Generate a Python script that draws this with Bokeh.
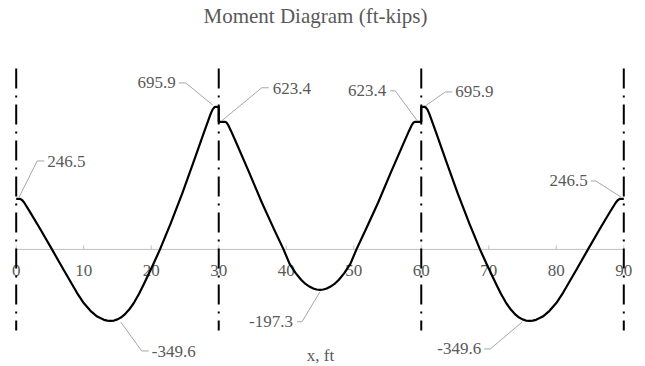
from bokeh.plotting import figure
from bokeh.models import Range1d, ColumnDataSource
from bokeh.core.properties import value
from bokeh.embed import file_html
from bokeh.resources import INLINE

# --- Bending moment along the beam (ft, ft-kips) ---
span1_x = [0, 0.6, 0.9, 1.2, 2.1, 3.6, 5.3, 7.0, 9.0, 10.0, 11.0, 12.0, 13.0, 13.5, 14.0,
           14.5, 15.0, 15.5, 16.0, 16.7, 17.4, 18.2, 18.9, 20.2, 21.3, 22.9, 24.6, 26.3,
           27.8, 28.4, 28.8, 29.1, 29.4, 29.5, 30]
span1_m = [246.5, 246.5, 240, 228, 180, 97, 0, -98, -212, -262, -300, -328, -344, -348, -349.6,
           -347.7, -342, -333, -320, -295, -263, -217, -170, -80, 0, 128, 274, 430,
           571, 625, 662, 684, 695.5, 695.9, 695.9]

span2_x = [30, 30.9, 31.1, 31.4, 31.8, 32.5, 34.5, 36.4, 38.2, 39.6, 40.5, 41.4, 42.2,
           42.9, 43.5, 44.0, 44.5, 45.0, 45.5, 46.0, 46.5, 47.1, 47.8, 48.6, 49.5, 50.4,
           51.8, 53.6, 55.5, 57.5, 58.2, 58.6, 58.9, 59.1, 60]
span2_m = [623.4, 623.4, 621, 608, 580, 528, 376, 228, 98, 0, -71, -116, -148,
           -170, -183, -191, -196, -197.3, -196, -191, -183, -170, -148, -116, -71, 0,
           98, 228, 376, 528, 580, 608, 621, 623.4, 623.4]

span3_x = [60, 60.5, 60.6, 60.9, 61.2, 61.6, 62.2, 63.7, 65.4, 67.1, 68.7, 69.8, 71.1,
           71.8, 72.6, 73.3, 74.0, 74.5, 75.0, 75.5, 76.0, 76.5, 77.0, 78.0, 79.0, 80.0,
           81.0, 83.0, 84.7, 86.4, 87.9, 88.8, 89.1, 89.4, 90]
span3_m = [695.9, 695.9, 695.5, 684, 662, 625, 571, 430, 274, 128, 0, -80, -170,
           -217, -263, -295, -320, -333, -342, -347.7, -349.6, -348, -344, -328, -300, -262,
           -212, -98, 0, 97, 180, 228, 240, 246.5, 246.5]

# support locations (ft) and x-axis ticks
supports = [0, 30, 60, 90]
x_ticks = [0, 10, 20, 30, 40, 50, 60, 70, 80, 90]

# labelled moments: location and value
label_x = [0, 30, 30, 60, 60, 90, 14.0, 45, 76.0]
label_m = [246.5, 695.9, 623.4, 623.4, 695.9, 246.5, -349.6, -197.3, -349.6]

# leader geometry in screen pixels relative to the labelled point (right/down positive)
leader_px = [
    [(3, -2), (21, -38), (28, -38)],
    [(-6, -2), (-33, -24), (-40, -24)],
    [(3, -1), (43, -34), (50, -34)],
    [(-4, -1), (-26, -31), (-31, -31)],
    [(4, -1), (24, -15), (31, -15)],
    [(-3, -2), (-28, -18), (-33, -18)],
    [(10, 1), (31, 30), (38, 30)],
    [(0, 2), (-18, 32), (-23, 32)],
    [(-7, 1), (-39, 28), (-45, 28)],
]
text_px = [(31, -37), (-43, -24), (54, -33), (-35, -31), (34, -15), (-36, -18),
           (41, 31), (-27, 32), (-48, 28)]
text_align = ["left", "right", "left", "right", "left", "right", "left", "right", "right"]

# --- canvas geometry ---
W, H = 645, 366
X0_PX, SX = 15.7, 6.751      # pixel of x = 0, pixels per ft
Y0_PX, SY = 248.9, 0.2047    # pixel of M = 0, pixels per ft-kip


def data_x(px):
    return (px - X0_PX) / SX


def data_y(py):
    return (Y0_PX - py) / SY


TEXT = "#595959"
GRID = "#bfbfbf"
LEAD = "#a6a6a6"
FONT = value("Liberation Serif")
LABEL_SIZE = "17px"

p = figure(width=W, height=H, output_backend="svg", toolbar_location=None,
           x_range=Range1d(data_x(0), data_x(W)), y_range=Range1d(data_y(H), data_y(0)),
           x_axis_type=None, y_axis_type=None, min_border=0,
           outline_line_color=None, background_fill_color="white",
           border_fill_color="white")
p.grid.visible = False

# horizontal axis through M = 0 with upward ticks
p.segment(x0=[x_ticks[0]], y0=[0], x1=[x_ticks[-1]], y1=[0], line_color=GRID, line_width=1)
p.segment(x0=x_ticks, y0=[0] * len(x_ticks), x1=x_ticks, y1=[4 / SY] * len(x_ticks),
          line_color=GRID, line_width=1)
p.text(x=x_ticks, y=[data_y(270)] * len(x_ticks), text=[str(t) for t in x_ticks],
       text_font=FONT, text_font_size=LABEL_SIZE, text_color=TEXT,
       text_align="center", text_baseline="middle")

# support centre lines
p.segment(x0=supports, y0=[data_y(68)] * len(supports), x1=supports,
          y1=[data_y(330)] * len(supports), line_color="black", line_width=2,
          line_dash="20 7 2 7")

# moment curve
mx = span1_x + span2_x + span3_x
mm = span1_m + span2_m + span3_m
p.line(mx, mm, line_color="black", line_width=2.2, line_join="round")

# leader lines and value labels
xs, ys, tx, ty, tt = [], [], [], [], []
for lx, lm, pts, tp in zip(label_x, label_m, leader_px, text_px):
    ax = X0_PX + lx * SX
    ay = Y0_PX - lm * SY
    xs.append([data_x(ax + dxp) for dxp, _ in pts])
    ys.append([data_y(ay + dyp) for _, dyp in pts])
    tx.append(data_x(ax + tp[0]))
    ty.append(data_y(ay + tp[1]))
    tt.append(f"{lm:.1f}")
p.multi_line(xs, ys, line_color=LEAD, line_width=1)
src = ColumnDataSource(dict(x=tx, y=ty, text=tt, align=text_align))
p.text(x="x", y="y", text="text", text_align="align", source=src,
       text_font=FONT, text_font_size=LABEL_SIZE, text_color=TEXT, text_baseline="middle")

# chart title and axis title
p.text(x=[data_x(315)], y=[data_y(15)], text=["Moment Diagram (ft-kips)"],
       text_font=FONT, text_font_size="21px", text_color=TEXT,
       text_align="center", text_baseline="middle")
p.text(x=[data_x(320)], y=[data_y(355)], text=["x, ft"],
       text_font=FONT, text_font_size=LABEL_SIZE, text_color=TEXT,
       text_align="center", text_baseline="middle")

open("out.html", "w").write(file_html(p, INLINE))
